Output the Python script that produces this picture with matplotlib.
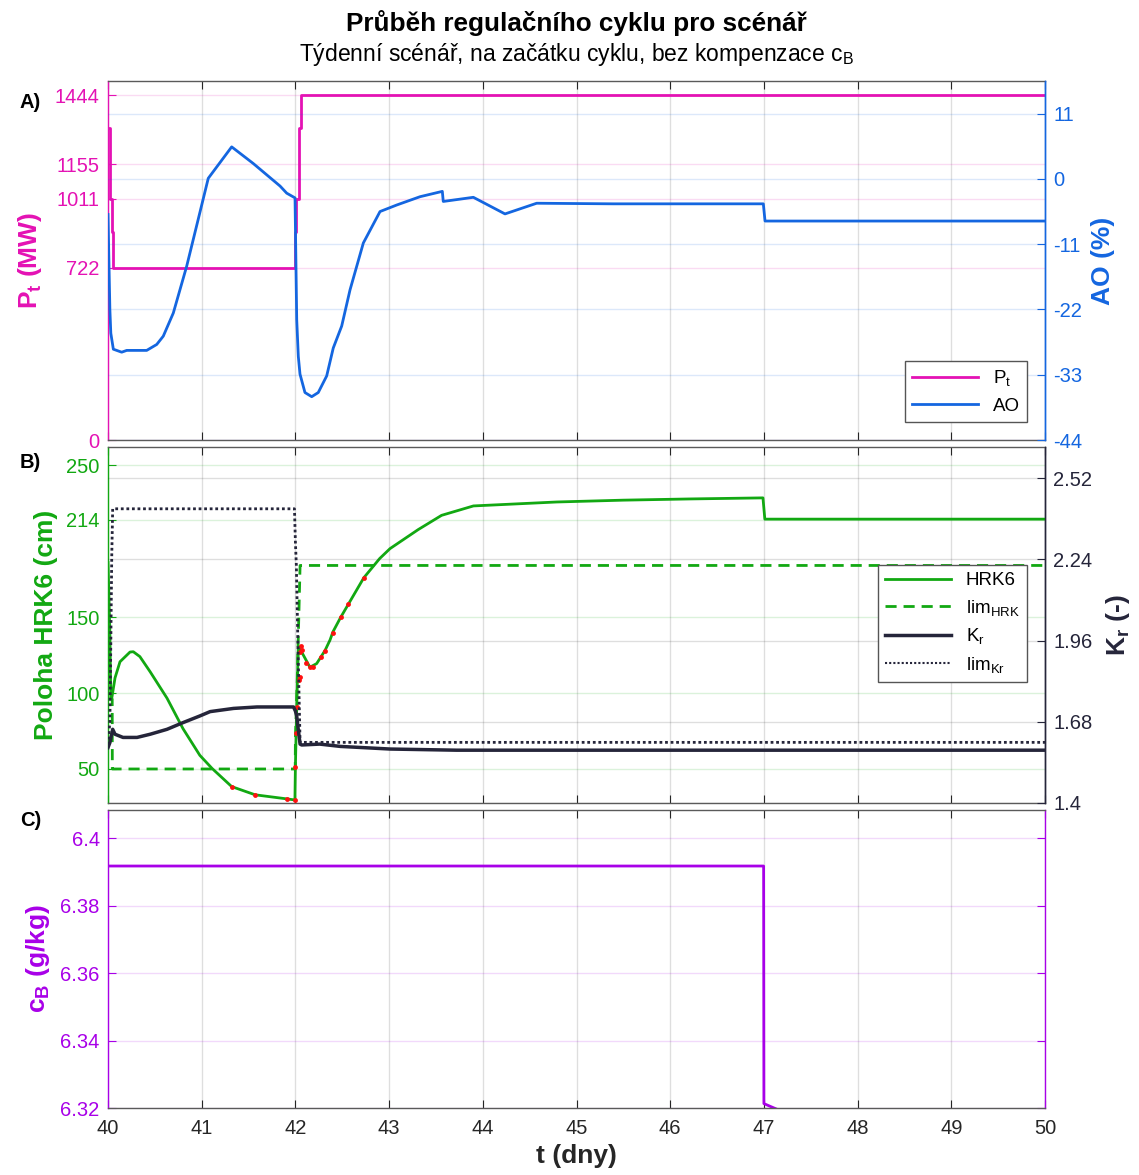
import numpy as np
import matplotlib.pyplot as plt
from matplotlib.lines import Line2D

plt.rcParams['font.family'] = ['Liberation Sans', 'DejaVu Sans']
plt.rcParams['mathtext.fontset'] = 'custom'
plt.rcParams['mathtext.rm'] = 'Liberation Sans'
plt.rcParams['mathtext.it'] = 'Liberation Sans'
plt.rcParams['mathtext.bf'] = 'Liberation Sans:bold'
plt.rcParams['axes.unicode_minus'] = False

# --- data ---
# A) thermal power (step) and axial offset
t_pt = [40.0, 40.02, 40.04, 40.05, 42.0, 42.01, 42.035, 42.055, 50.0]
pt = [1306, 1011, 870, 722, 870, 1011, 1306, 1444, 1444]
pt_ticks = [0, 722, 1011, 1155, 1444]

t_ao = [40.0, 40.02, 40.03, 40.057, 40.146, 40.2, 40.413, 40.52, 40.59, 40.697,
        40.84, 40.98, 41.07, 41.32, 41.55, 41.836, 41.907, 41.996, 42.014, 42.031,
        42.049, 42.102, 42.174, 42.244, 42.334, 42.404, 42.494, 42.583, 42.725, 42.903,
        43.081, 43.33, 43.568, 43.578, 43.899, 44.237, 44.575, 45.39, 46.994, 47.012, 50.0]
ao = [-6.0, -22.0, -26.0, -28.7, -29.2, -28.9, -28.9, -27.9, -26.5, -22.6,
      -14.7, -5.7, 0.1, 5.4, 2.6, -1.2, -2.4, -3.2, -23.7, -29.9,
      -32.9, -36.0, -36.7, -36.0, -33.2, -28.5, -24.8, -18.7, -10.8, -5.5,
      -4.4, -3.0, -2.1, -3.8, -3.1, -5.9, -4.1, -4.2, -4.2, -7.1, -7.1]
ao_ticks = [-44, -33, -22, -11, 0, 11]

# B) control rod group HRK6 position, its limit, Kr and its limit
t_hrk = [40.0, 40.02, 40.03, 40.04, 40.075, 40.128, 40.235, 40.27, 40.34, 40.45,
         40.63, 40.80, 40.98, 41.11, 41.32, 41.57, 41.91, 41.995, 42.0, 42.014,
         42.031, 42.067, 42.155, 42.227, 42.316, 42.37, 42.40, 42.48, 42.57, 42.73,
         42.90, 43.01, 43.31, 43.56, 43.90, 44.79, 45.50, 46.21, 46.99, 47.01, 50.0]
hrk = [186, 140, 97, 96.5, 110, 120.6, 127, 127.2, 124, 114,
       96.6, 76.6, 59, 50.4, 38.4, 33, 30.3, 29.6, 51.5, 91,
       130.5, 127, 117, 119.4, 128, 135, 140.2, 149.5, 159, 175.9,
       188.6, 195.1, 207.6, 217, 223.2, 225.8, 227, 227.8, 228.5, 214.5, 214.5]

t_red = [41.32, 41.57, 41.91, 41.995, 42.0, 42.006, 42.02, 42.04, 42.05, 42.05,
         42.06, 42.07, 42.11, 42.155, 42.19, 42.27, 42.316, 42.40, 42.49, 42.565, 42.735]
red = [38.4, 33, 30.3, 29.6, 51, 73.7, 91, 108.6, 110.7, 127,
       131, 128.3, 120, 117, 117.3, 124, 128, 139.7, 149.8, 158.6, 175.9]

t_limh = [40.0, 40.045, 40.046, 41.998, 42.0, 42.02, 42.05, 50.0]
limh = [96, 96, 50, 50, 70, 110, 184, 184]
hrk_ticks = [50, 100, 150, 214, 250]

t_kr = [40.0, 40.02, 40.05, 40.075, 40.16, 40.31, 40.45, 40.63, 40.80, 40.98,
        41.09, 41.34, 41.59, 41.98, 42.0, 42.014, 42.03, 42.05, 42.067, 42.26,
        42.48, 43.01, 43.72, 45.5, 50.0]
kr = [1.591, 1.608, 1.654, 1.637, 1.626, 1.626, 1.637, 1.654, 1.677, 1.700,
      1.715, 1.726, 1.731, 1.731, 1.717, 1.700, 1.655, 1.603, 1.600, 1.603,
      1.595, 1.586, 1.582, 1.582, 1.582]

t_limk = [40.0, 40.02, 40.03, 40.04, 40.05, 41.99, 42.0, 42.01, 42.03, 42.05, 50.0]
limk = [1.60, 1.68, 1.95, 2.25, 2.414, 2.414, 2.30, 2.22, 1.90, 1.609, 1.609]
kr_ticks = [1.4, 1.68, 1.96, 2.24, 2.52]
kr_labels = ['1.4', '1.68', '1.96', '2.24', '2.52']

# C) boron concentration
t_cb = [40.0, 46.997, 47.0, 47.15]
cb = [6.3917, 6.3917, 6.3213, 6.3195]
cb_ticks = [6.32, 6.34, 6.36, 6.38, 6.4]
cb_labels = ['6.32', '6.34', '6.36', '6.38', '6.4']

days = list(range(40, 51))

# colours
c_pt = '#E412B4'
c_ao = '#1466E0'
c_hrk = '#12A812'
c_kr = '#25253A'
c_cb = '#A800E8'
c_ax = '#262626'
c_sp = '#5a5a5a'

fs_tick = 14.5
fs_lab = 19

fig = plt.figure(figsize=(11.39, 11.75), dpi=100)
W = 1139.0
H = 1175.0
x0, x1 = 108 / W, 1045 / W


def box(top, bot):
    return [x0, 1 - bot / H, x1 - x0, (bot - top) / H]


def style(ax, ax2, lcol, rcol, xlabels=False):
    ax.set_xlim(40, 50)
    ax.set_xticks(days)
    ax.tick_params(axis='x', direction='in', top=True, bottom=True, length=6,
                   labelsize=fs_tick, colors=c_ax, labelbottom=xlabels, pad=8)
    ax.tick_params(axis='y', direction='in', length=6, labelsize=fs_tick, colors=lcol, pad=6)
    ax.grid(axis='x', color=c_ax, alpha=0.15, lw=1)
    ax.grid(axis='y', color=lcol, alpha=0.15, lw=1)
    ax.spines['left'].set_color(lcol)
    ax.spines['top'].set_color(c_sp)
    ax.spines['bottom'].set_color(c_sp)
    ax.spines['right'].set_color(rcol)
    for s in ax.spines.values():
        s.set_linewidth(1.0)
    if ax2 is not None:
        ax2.set_xlim(40, 50)
        ax2.tick_params(axis='y', direction='in', length=6, labelsize=fs_tick, colors=rcol, pad=6)
        ax2.grid(axis='y', color=rcol, alpha=0.15, lw=1)
        ax2.spines['right'].set_color(rcol)
        ax2.spines['right'].set_linewidth(1.0)
        for k in ['left', 'top', 'bottom']:
            ax2.spines[k].set_visible(False)


# ---------- A ----------
axA = fig.add_axes(box(81, 440))
axA2 = axA.twinx()
axA.step(t_pt, pt, where='post', color=c_pt, lw=2)
axA2.plot(t_ao, ao, color=c_ao, lw=2)
axA.set_ylim(0, 1503)
axA.set_yticks(pt_ticks)
axA2.set_ylim(-44, 16.5)
axA2.set_yticks(ao_ticks)
style(axA, axA2, c_pt, c_ao)
axA.set_ylabel(r'$\mathbf{P_t}$ (MW)', color=c_pt, fontsize=fs_lab, fontweight='bold', labelpad=8)
axA2.set_ylabel('AO (%)', color=c_ao, fontsize=fs_lab, fontweight='bold', labelpad=6)
hA = [Line2D([], [], color=c_pt, lw=2), Line2D([], [], color=c_ao, lw=2)]
legA = axA2.legend(hA, [r'P$_\mathrm{t}$', 'AO'], loc='lower right', fontsize=13.5,
                   fancybox=False, framealpha=1, edgecolor='#555555', handlelength=3.5,
                   borderaxespad=0.95, labelspacing=0.5)
legA.get_frame().set_linewidth(1.0)

# ---------- B ----------
axB = fig.add_axes(box(447, 803))
axB2 = axB.twinx()
axB.plot(t_hrk, hrk, color=c_hrk, lw=2, zorder=3)
axB.plot(t_red, red, 'o', color='#FF1010', ms=3.5, mec='none', zorder=4)
axB.plot(t_limh, limh, color=c_hrk, lw=2, ls=(0, (4, 2.5)), zorder=2)
axB2.plot(t_kr, kr, color=c_kr, lw=2.5)
axB2.plot(t_limk, limk, color=c_kr, lw=2, ls=(0, (1, 1)))
axB.set_ylim(27.6, 262)
axB.set_yticks(hrk_ticks)
axB2.set_ylim(1.4, 2.627)
axB2.set_yticks(kr_ticks)
axB2.set_yticklabels(kr_labels)
style(axB, axB2, c_hrk, c_kr)
axB2.grid(axis='y', color=c_ax, alpha=0.15, lw=1)
axB.set_ylabel('Poloha HRK6 (cm)', color=c_hrk, fontsize=fs_lab, fontweight='bold', labelpad=6)
axB2.set_ylabel(r'$\mathbf{K_r}$ (-)', color=c_kr, fontsize=fs_lab, fontweight='bold', labelpad=8)
hB = [Line2D([], [], color=c_hrk, lw=2),
      Line2D([], [], color=c_hrk, lw=2, ls=(0, (4, 2.5))),
      Line2D([], [], color=c_kr, lw=2.5),
      Line2D([], [], color=c_kr, lw=1.5, ls=(0, (1, 1)))]
legB = axB2.legend(hB, ['HRK6', r'lim$_\mathrm{HRK}$', r'K$_\mathrm{r}$', r'lim$_\mathrm{Kr}$'],
                   loc='center right', bbox_to_anchor=(1.0, 0.504), fontsize=13.5,
                   fancybox=False, framealpha=1, edgecolor='#555555', handlelength=3.5,
                   borderaxespad=0.95, labelspacing=0.45)
legB.get_frame().set_linewidth(1.0)

# ---------- C ----------
axC = fig.add_axes(box(810, 1108))
axC.plot(t_cb, cb, color=c_cb, lw=2)
axC.set_ylim(6.32, 6.4083)
axC.set_yticks(cb_ticks)
axC.set_yticklabels(cb_labels)
style(axC, None, c_cb, c_cb, xlabels=True)
axC.tick_params(axis='y', right=True)
axC.set_ylabel(r'$\mathbf{c_B}$ (g/kg)', color=c_cb, fontsize=fs_lab, fontweight='bold', labelpad=6)
axC.set_xlabel('t (dny)', color=c_ax, fontsize=fs_lab, fontweight='bold', labelpad=4)

# titles and panel letters
xc = (x0 + x1) / 2
fig.text(xc, 1 - 23 / H, 'Průběh regulačního cyklu pro scénář', ha='center', va='center',
         fontsize=18.8, fontweight='bold', color='black')
fig.text(xc, 1 - 55 / H, r'Týdenní scénář, na začátku cyklu, bez kompenzace c$_\mathrm{B}$',
         ha='center', va='center', fontsize=16.5, color='black')
for lab, y in [('A)', 102), ('B)', 462), ('C)', 821)]:
    fig.text(20 / W, 1 - y / H, lab, ha='left', va='center', fontsize=14.5, fontweight='bold')

fig.savefig('out.png', dpi=100)
